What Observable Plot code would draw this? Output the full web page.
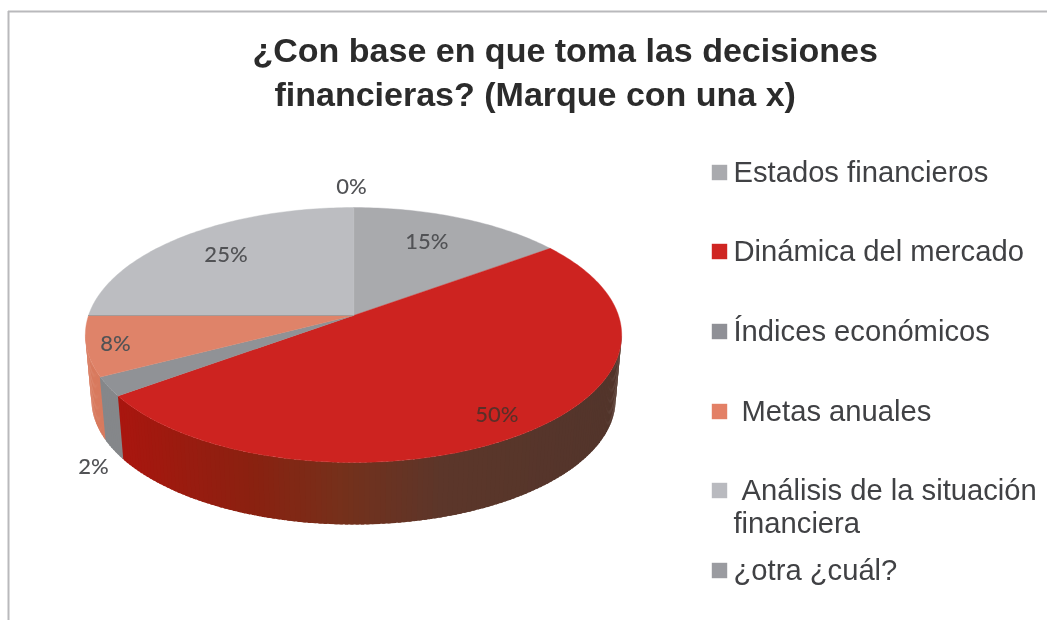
<!DOCTYPE html>
<html><head><meta charset="utf-8">
<script src="https://cdn.jsdelivr.net/npm/d3@7"></script>
<script src="https://cdn.jsdelivr.net/npm/@observablehq/plot@0.6"></script>
<style>html,body{margin:0;padding:0;background:#fff;overflow:hidden}svg{display:block;filter:blur(0.55px)}</style>
</head><body><div id="chart"></div>
<script>
const categories = ["Estados financieros","Dinámica del mercado","Índices económicos","Metas anuales","Análisis de la situación financiera","¿otra ¿cuál?"];
const shares = [15,50,2.4,7.6,25,0];
const topColors = ["#a9aaad","#cd2320","#909296","#df8369","#bcbdc1","#9a9ba0"];
const sideColors = ["#8c8d90","#a9160f","#85878a","#d87a5e","#a0a1a5","#8c8d90"];
const legendColors = ["#a9aaae","#cf2522","#8f9096","#e38066","#b9babf","#9a9ba0"];
const titleLines = ["¿Con base en que toma las decisiones","financieras? (Marque con una x)"];

// label placement: fraction of the radius along each slice's middle, plus nudges
const labelRadius = [0.73,0.84,1.06,0.88,0.76,1.2];
const labelNudgeX = [-4,-6,0,-3,1,-2];
const labelNudgeY = [-2,3,76,2,0,1];

// perspective of the pie disc
const cx=353, cy=315, rx=265, ry=124.5, k=0.153;
const top3d = a => { const w=1+k*Math.cos(a); return [cx+rx*Math.sin(a)/w, cy-ry*Math.cos(a)/w]; };
const low3d = a => { const w=1+k*Math.cos(a); return [cx+259*Math.sin(a)/w, 380-122*Math.cos(a)/w]; };
const rad = d => d*Math.PI/180;

let acc=0;
const slices = shares.map((s,i)=>{ const a0=acc*3.6; acc+=s; return {i,a0,a1:acc*3.6,mid:(a0+acc*3.6)/2}; });

const topPts=[];
for (const s of slices){
  if (s.a1<=s.a0) continue;
  topPts.push({z:s.i,p:[cx,cy],c:topColors[s.i]});
  const n=Math.ceil(s.a1-s.a0);
  for(let j=0;j<=n;j++) topPts.push({z:s.i,p:top3d(rad(s.a0+(s.a1-s.a0)*j/n)),c:topColors[s.i]});
}
const redRamp=d3.scaleLinear([118,250,340,440,620],["#a9160f","#8a2110","#75301b","#5c362a","#52352b"]);
const sidePts=[];
for(let d=98;d<262;d++){
  const m=d+0.5, s=slices.find(q=>m>=q.a0&&m<q.a1);
  // each strip overlaps the next so no seam shows the paper through
  const e=Math.min(d+1.6,262);
  const p0=top3d(rad(d)),p1=top3d(rad(e)),p2=low3d(rad(e)),p3=low3d(rad(d));
  const c=s.i===1?redRamp((p0[0]+p1[0])/2):sideColors[s.i];
  for(const p of [p0,p1,p2,p3]) sidePts.push({z:d,p,c});
}
const edge=[[cx,cy],top3d(rad(270))].map(p=>({p}));
const labels=slices.map(s=>{
  const p=top3d(rad(s.mid)), f=labelRadius[s.i];
  return {t:Math.round(shares[s.i])+"%",x:cx+(p[0]-cx)*f+labelNudgeX[s.i],y:cy+(p[1]-cy)*f+labelNudgeY[s.i],c:s.i===1?"#5a2f28":"#515255"};
});

const legendY=[172,251,331,411,490,570];
const legendRows=categories.map((c,i)=>({c:legendColors[i],y:legendY[i]}));
const legendText=[
 {t:categories[0],x:733,y:172},{t:categories[1],x:733,y:251},{t:categories[2],x:733,y:331},
 {t:categories[3],x:741,y:411},{t:"Análisis de la situación",x:741,y:490},{t:"financiera",x:733,y:523},
 {t:categories[5],x:733,y:570}];

const chart=Plot.plot({
  width:1047,height:620,margin:0,
  x:{domain:[0,1047],range:[0,1047],axis:null},
  y:{domain:[0,620],range:[0,620],axis:null},
  style:{background:"#fff"},
  marks:[
    Plot.ruleX([8],{y1:11,y2:620,stroke:"#b9b9bc",strokeWidth:2}),
    Plot.ruleY([11],{x1:8,x2:1047,stroke:"#b9b9bc",strokeWidth:2}),
    Plot.line(sidePts,{x:d=>d.p[0],y:d=>d.p[1],z:"z",fill:"c",stroke:"none",curve:"linear-closed"}),
    Plot.line(topPts,{x:d=>d.p[0],y:d=>d.p[1],z:"z",fill:"c",stroke:"c",strokeWidth:0.4,curve:"linear-closed"}),
    Plot.line(edge,{x:d=>d.p[0],y:d=>d.p[1],stroke:"#a39a98",strokeWidth:1}),
    Plot.text(labels,{x:"x",y:"y",text:"t",fill:"c",fontFamily:"Lato",fontSize:22,fontWeight:500,textAnchor:"middle",lineAnchor:"middle"}),
    Plot.text(titleLines.map((t,i)=>({t,x:i?274:252,y:i?105.5:61})),{x:"x",y:"y",text:"t",fill:"#2b2b2b",fontFamily:"Liberation Sans",fontWeight:"bold",fontSize:34,textAnchor:"start",lineAnchor:"bottom"}),
    Plot.dot(legendRows,{x:719,y:"y",fill:"c",symbol:"square",r:8.7}),
    Plot.text(legendText,{x:"x",y:"y",text:"t",fill:"#404144",fontFamily:"Liberation Sans",fontSize:29.2,textAnchor:"start",lineAnchor:"middle"})
  ]
});
document.getElementById("chart").append(chart);
</script></body></html>
